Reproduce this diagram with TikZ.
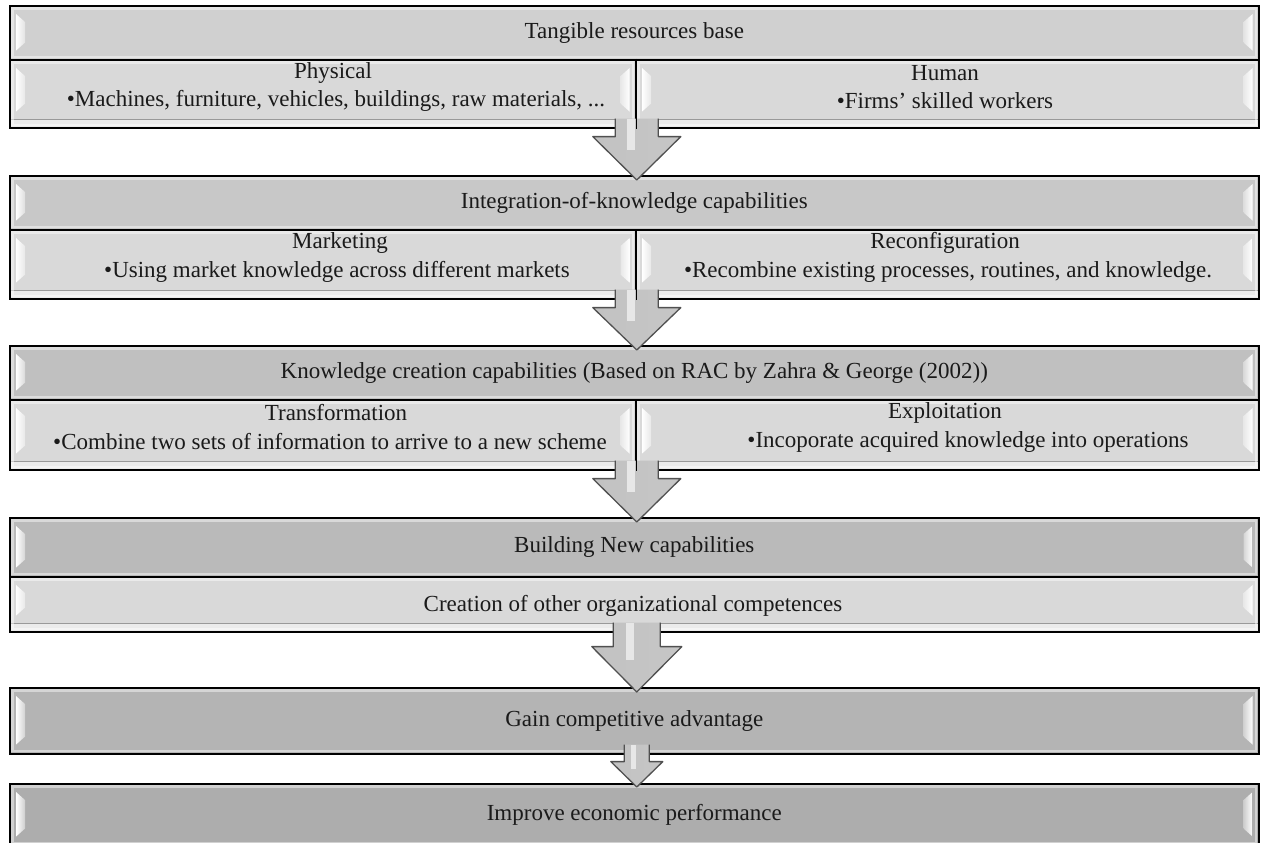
\documentclass[tikz,border=0pt]{standalone}
\usepackage{fontspec}
\setmainfont{Liberation Serif}
\usetikzlibrary{calc}
\definecolor{txt}{HTML}{1A1A1A}
\definecolor{cA}{HTML}{D0D0D0}
\definecolor{cB}{HTML}{C8C8C8}
\definecolor{cC}{HTML}{C0C0C0}
\definecolor{cD}{HTML}{BABABA}
\definecolor{cE}{HTML}{B4B4B4}
\definecolor{cF}{HTML}{ADADAD}
\definecolor{cSub}{HTML}{D9D9D9}
\definecolor{band}{HTML}{EBEBEB}
\definecolor{arrowedge}{HTML}{505050}
\definecolor{arL}{HTML}{C2C2C2}
\definecolor{arM}{HTML}{EEEEEE}
\definecolor{arR}{HTML}{C6C6C6}
\newcommand\bevel[3]{% node, colour, bottom offset
  \draw[white, opacity=.45, line width=2.5pt] ([shift={(3.5pt,-3.5pt)}]#1.north west) rectangle ([shift={(-3.5pt,3.5pt)}]#1.south east);
  \shade[left color=white, right color=white!40!#2] ([shift={(7pt,-9pt)}]#1.north west) -- ([shift={(16pt,-17pt)}]#1.north west) -- ([shift={(16pt,#3pt+8pt)}]#1.south west) -- ([shift={(7pt,#3pt)}]#1.south west) -- cycle;
  \shade[left color=white!40!#2, right color=white] ([shift={(-7pt,-9pt)}]#1.north east) -- ([shift={(-16pt,-17pt)}]#1.north east) -- ([shift={(-16pt,#3pt+8pt)}]#1.south east) -- ([shift={(-7pt,#3pt)}]#1.south east) -- cycle;
}
\newcommand\subband[1]{%
  \fill[band] ([shift={(2pt,9pt)}]#1.south west) rectangle ([shift={(-2pt,2pt)}]#1.south east);
  \draw[black!40, line width=1pt] ([shift={(2pt,9.5pt)}]#1.south west) -- ([shift={(-2pt,9.5pt)}]#1.south east);
}
\newcommand\flowarrow[6]{% from, to, shaft half, head half, head offset, tip offset
  \coordinate (tp) at ($(#2.north)+(2.5pt,-#6pt)$);
  \coordinate (st) at ($(#1.south -| tp)+(0pt,10pt)$);
  \coordinate (ht) at ($(#1.south -| tp)+(0pt,-#5pt)$);
  \shade[left color=arL, middle color=arM, right color=arR] ($(st)+(-#3pt,0pt)$) -- ($(ht)+(-#3pt,0pt)$) -- ($(ht)+(-#4pt,0pt)$) -- (tp) -- ($(ht)+(#4pt,0pt)$) -- ($(ht)+(#3pt,0pt)$) -- ($(st)+(#3pt,0pt)$) -- cycle;
  \fill[white, opacity=.6] ($(st)+(-0.45*#3pt,0pt)$) rectangle ($(ht)+(-0.1*#3pt,-0.3*#4pt)$);
  \draw[arrowline] ($(st)+(-#3pt,0pt)$) -- ($(ht)+(-#3pt,0pt)$) -- ($(ht)+(-#4pt,0pt)$) -- (tp) -- ($(ht)+(#4pt,0pt)$) -- ($(ht)+(#3pt,0pt)$) -- ($(st)+(#3pt,0pt)$);
}
\begin{document}
\begin{tikzpicture}[x=1pt,y=-1pt,
  boxbase/.style={draw=black, line width=1.6pt, rectangle, inner sep=0pt, anchor=north west,
    font=\fontsize{23}{27}\selectfont, text=txt},
  lbl/.style={inner sep=0pt, font=\fontsize{23}{27}\selectfont, text=txt},
  arrowline/.style={draw=arrowedge, line width=1.3pt, line join=round},
  divider/.style={draw=black, line width=1.6pt}]
\useasboundingbox (0,0) rectangle (1261,843);
\clip (0,0) rectangle (1261,843);
\fill[white] (0,0) rectangle (1261,843);

% section 1
\node[boxbase, fill=cA, minimum width=1249pt, minimum height=54pt] (h1) at (9,5) {Tangible resources base};
\node[boxbase, fill=cSub, minimum width=626pt, minimum height=68pt] (l1) at (9,59) {};
\node[boxbase, fill=cSub, minimum width=623pt, minimum height=68pt] (r1) at (635,59) {};
% section 2
\node[boxbase, fill=cB, minimum width=1249pt, minimum height=54pt] (h2) at (9,175) {Integration-of-knowledge capabilities};
\node[boxbase, fill=cSub, minimum width=626pt, minimum height=69pt] (l2) at (9,229) {};
\node[boxbase, fill=cSub, minimum width=623pt, minimum height=69pt] (r2) at (635,229) {};
% section 3
\node[boxbase, fill=cC, minimum width=1249pt, minimum height=54pt] (h3) at (9,345) {Knowledge creation capabilities (Based on RAC by Zahra \& George (2002))};
\node[boxbase, fill=cSub, minimum width=626pt, minimum height=70pt] (l3) at (9,399) {};
\node[boxbase, fill=cSub, minimum width=623pt, minimum height=70pt] (r3) at (635,399) {};
% section 4
\node[boxbase, fill=cD, minimum width=1249pt, minimum height=59pt] (h4) at (9,517) {Building New capabilities};
\node[boxbase, fill=cSub, minimum width=1249pt, minimum height=55pt] (b4) at (9,576) {};
% section 5, 6
\node[boxbase, fill=cE, minimum width=1249pt, minimum height=66pt] (h5) at (9,687) {Gain competitive advantage};
\node[boxbase, fill=cF, minimum width=1249pt, minimum height=62pt] (h6) at (9,783) {Improve economic performance};

% bevel effects
\bevel{h1}{cA}{10}
\bevel{h2}{cB}{10}
\bevel{h3}{cC}{10}
\bevel{h4}{cD}{10}
\bevel{h5}{cE}{10}
\bevel{h6}{cF}{10}
\foreach \n in {l1,r1,l2,r2,l3,r3,b4} {\subband{\n}}
\foreach \n in {l1,r1,l2,r2,l3,r3,b4} {\bevel{\n}{cSub}{17}}

% texts of the sub boxes
\node[lbl] (t1a) at (333,73) {Physical};
\node[lbl] (t1b) at (336,101) {•Machines, furniture, vehicles, buildings, raw materials, ...};
\node[lbl] (t1c) at (945,73) {Human};
\node[lbl] (t1d) at (945,101) {•Firms’ skilled workers};
\node[lbl] (t2a) at (340,243) {Marketing};
\node[lbl] (t2b) at (337,272) {•Using market knowledge across different markets};
\node[lbl] (t2c) at (945,243) {Reconfiguration};
\node[lbl] (t2d) at (948,272) {•Recombine existing processes, routines, and knowledge.};
\node[lbl] (t3a) at (336,413) {Transformation};
\node[lbl] (t3b) at (330,442) {•Combine two sets of information to arrive to a new scheme};
\node[lbl] (t3c) at (945,413) {Exploitation};
\node[lbl] (t3d) at (968,442) {•Incoporate acquired knowledge into operations};
\node[lbl] (t4) at (633,606) {Creation of other organizational competences};

% arrows
\flowarrow{l1}{h2}{21.5}{44}{8}{5}
\flowarrow{l2}{h3}{21.5}{44}{8}{5}
\flowarrow{l3}{h4}{21.5}{44}{8}{5}
\flowarrow{b4}{h5}{23.5}{45}{14}{5}
\flowarrow{h5}{h6}{12.5}{26}{7}{4}

% dividers over the arrow shafts
\draw[divider] (l1.north east) -- (l1.south east);
\draw[divider] (l2.north east) -- (l2.south east);
\draw[divider] (l3.north east) -- (l3.south east);
\end{tikzpicture}
\end{document}
